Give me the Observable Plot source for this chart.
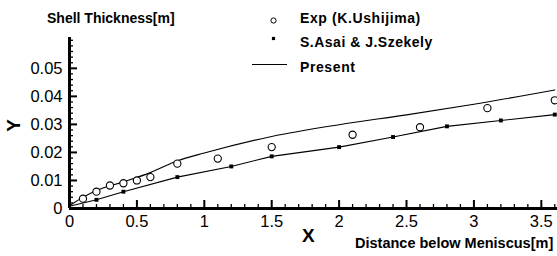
<!DOCTYPE html>
<html>
<head>
<meta charset="utf-8">
<script src="https://cdn.jsdelivr.net/npm/d3@7"></script>
<script src="https://cdn.jsdelivr.net/npm/@observablehq/plot@0.6"></script>
<style>
  html, body { margin: 0; padding: 0; background: #fff; }
  #wrap { position: relative; width: 557px; height: 256px; font-family: "Liberation Sans", Arial, sans-serif; color: #000; }
  #wrap svg { display: block; }
  .lbl { position: absolute; white-space: nowrap; font-weight: bold; line-height: 1; }
</style>
</head>
<body>
<div id="wrap"></div>
<script>
// ---- data ----
const expX = [0.1, 0.2, 0.3, 0.4, 0.5, 0.6, 0.8, 1.1, 1.5, 2.1, 2.6, 3.1, 3.6];
const expY = [0.0035, 0.006, 0.0082, 0.009, 0.010, 0.0112, 0.016, 0.0178, 0.0219, 0.0263, 0.029, 0.0358, 0.0386];

const asaiLineX = [0, 0.2, 0.4, 0.8, 1.2, 1.5, 2.0, 2.4, 2.8, 3.2, 3.6];
const asaiLineY = [0.0008, 0.0031, 0.006, 0.0112, 0.015, 0.0186, 0.0219, 0.0255, 0.0293, 0.0314, 0.0335];
const asaiMarkIdx = [1, 2, 3, 4, 5, 6, 7, 8, 9, 10];

const presentX = [0, 0.1, 0.2, 0.4, 0.6, 0.8, 1.0, 1.5, 2.0, 2.5, 3.0, 3.6];
const presentY = [0.001, 0.004, 0.0064, 0.0095, 0.0128, 0.017, 0.0198, 0.0257, 0.0299, 0.0334, 0.0372, 0.0423];

const xMajor = [0, 0.5, 1, 1.5, 2, 2.5, 3, 3.5];
const xMinor = [0.1,0.2,0.3,0.4,0.6,0.7,0.8,0.9,1.1,1.2,1.3,1.4,1.6,1.7,1.8,1.9,2.1,2.2,2.3,2.4,2.6,2.7,2.8,2.9,3.1,3.2,3.3,3.4,3.6];
const yMajor = [0, 0.01, 0.02, 0.03, 0.04, 0.05];
const yMinor = [0.002,0.004,0.006,0.008,0.012,0.014,0.016,0.018,0.022,0.024,0.026,0.028,0.032,0.034,0.036,0.038,0.042,0.044,0.046,0.048,0.052,0.054,0.056,0.058,0.06];
const xLabels = ["0", "0.5", "1", "1.5", "2", "2.5", "3", "3.5"];
const yLabels = ["0", "0.01", "0.02", "0.03", "0.04", "0.05"];

const legendNames = ["Exp (K.Ushijima)", "S.Asai & J.Szekely", "Present"];
const title = "Shell Thickness[m]";
const xName = "X", yName = "Y", xDesc = "Distance below Meniscus[m]";

// ---- build ----
const exp = expX.map((x, i) => ({x, y: expY[i]}));
const asaiLine = asaiLineX.map((x, i) => ({x, y: asaiLineY[i]}));
const asaiMarks = asaiMarkIdx.map(i => asaiLine[i]);
const present = presentX.map((x, i) => ({x, y: presentY[i]}));

const W = 557, H = 256, mL = 69, mR = 0, mT = 37, mB = 48;
const plotW = W - mL - mR, plotH = H - mT - mB;

const chart = Plot.plot({
  width: W, height: H,
  marginLeft: mL, marginRight: mR, marginTop: mT, marginBottom: mB,
  style: {fontFamily: '"Liberation Sans", Arial, sans-serif', fontSize: "16.5px", color: "#000", background: "#fff", overflow: "visible"},
  x: {domain: [0, 3.62], ticks: xMajor, tickFormat: (d, i) => xLabels[i], tickSize: 0, tickPadding: 7, label: null},
  y: {domain: [0, 0.061], ticks: yMajor, tickFormat: (d, i) => yLabels[i], tickSize: 0, tickPadding: 7, label: null},
  marks: [
    Plot.line(present, {x: "x", y: "y", stroke: "#000", strokeWidth: 1.1, curve: "monotone-x", clip: true}),
    Plot.line(asaiLine, {x: "x", y: "y", stroke: "#000", strokeWidth: 1.1, clip: true}),
    Plot.dot(asaiMarks, {x: "x", y: "y", symbol: "square", r: 2.2, fill: "#000", stroke: "none", clip: true}),
    Plot.dot(exp, {x: "x", y: "y", symbol: "circle", r: 3.6, fill: "#fff", stroke: "#000", strokeWidth: 1.1}),
    Plot.tickY(yMajor, {y: d => d, stroke: "#000", strokeWidth: 2, insetRight: plotW - 8}),
    Plot.tickY(yMinor, {y: d => d, stroke: "#000", strokeWidth: 1.3, insetRight: plotW - 4}),
    Plot.tickX(xMajor, {x: d => d, stroke: "#000", strokeWidth: 2, insetTop: plotH - 8}),
    Plot.tickX(xMinor, {x: d => d, stroke: "#000", strokeWidth: 1.3, insetTop: plotH - 4}),
    Plot.ruleX([0], {stroke: "#000", strokeWidth: 3}),
    Plot.ruleY([0], {stroke: "#000", strokeWidth: 3})
  ]
});

const wrap = document.getElementById("wrap");
wrap.appendChild(chart);

function addLabel(text, left, top, size, extra) {
  const s = document.createElement("span");
  s.className = "lbl";
  s.textContent = text;
  s.style.left = left + "px";
  s.style.top = top + "px";
  s.style.fontSize = size + "px";
  if (extra) Object.assign(s.style, extra);
  wrap.appendChild(s);
  return s;
}

addLabel(title, 47, 11, 14);
addLabel(legendNames[0], 300, 11, 14, {letterSpacing: "0.6px"});
addLabel(legendNames[1], 300, 35, 14, {letterSpacing: "0.5px"});
addLabel(legendNames[2], 300, 60, 14, {letterSpacing: "0.6px"});
addLabel(xName, 302, 226, 19);
addLabel(xDesc, 355, 236, 14.5);
addLabel(yName, 7, 116, 19, {transform: "rotate(-90deg)", transformOrigin: "50% 50%"});

// legend swatches (drawn with Plot)
const sw = Plot.plot({
  width: 40, height: 70, margin: 0,
  x: {domain: [0, 1], axis: null}, y: {domain: [0, 1], axis: null},
  style: {background: "transparent", overflow: "visible"},
  marks: [
    Plot.dot([{k: 0}], {frameAnchor: "top", dy: 15, symbol: "circle", r: 2.6, fill: "#fff", stroke: "#000", strokeWidth: 1}),
    Plot.dot([{k: 1}], {frameAnchor: "top", dy: 33, symbol: "square", r: 1.8, fill: "#000"})
  ]
});
sw.style.position = "absolute"; sw.style.left = "253px"; sw.style.top = "5px";
wrap.appendChild(sw);
const ln = document.createElement("div");
Object.assign(ln.style, {position: "absolute", left: "252px", top: "64px", width: "35px", height: "0", borderTop: "1px solid #000"});
wrap.appendChild(ln);
</script>
</body>
</html>
